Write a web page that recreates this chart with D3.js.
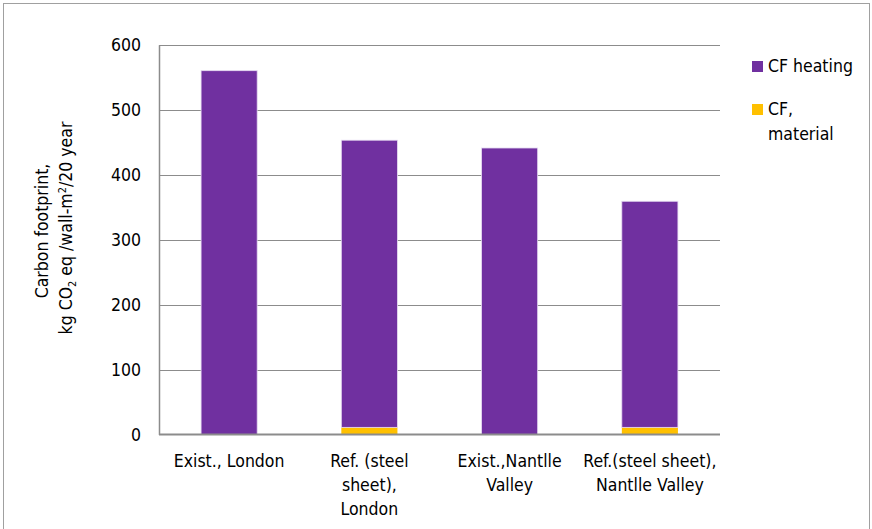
<!DOCTYPE html>
<html><head><meta charset="utf-8">
<script src="https://cdn.jsdelivr.net/npm/d3@7"></script>
<style>
body{margin:0;background:#fff;}
text{font-family:"DejaVu Sans Condensed","DejaVu Sans",sans-serif;font-stretch:condensed;fill:#000;}
</style></head><body>
<svg id="c" width="872" height="529"></svg>
<script>
const categories = [["Exist., London"], ["Ref. (steel", "sheet),", "London"], ["Exist.,Nantlle", "Valley"], ["Ref.(steel sheet),", "Nantlle Valley"]];
const cfHeating = [560, 442, 441, 348];
const cfMaterial = [0, 11, 0, 11];
const yTicks = [0, 100, 200, 300, 400, 500, 600];
const seriesNames = ["CF heating", "CF, material"];
const seriesColors = ["#7030A0", "#FFC000"];

(function(){
const FS = 17.5;
const svg = d3.select("#c");
svg.append("rect").attr("x",3.5).attr("y",3.5).attr("width",866).attr("height",540)
  .attr("fill","none").attr("stroke","#a0a0a0").attr("stroke-width",1);

const pLeft = 159, pRight = 720, pTop = 44.7, pBottom = 434.5;
const x = d3.scaleBand().domain(d3.range(categories.length)).range([pLeft, pRight]).paddingInner(0.6).paddingOuter(0.3);
const y = d3.scaleLinear().domain([0, 600]).range([pBottom, pTop]);

svg.append("g").selectAll("line").data(yTicks.filter(d=>d>0)).join("line")
  .attr("x1", pLeft).attr("x2", pRight).attr("y1", d=>Math.round(y(d))+0.5).attr("y2", d=>Math.round(y(d))+0.5)
  .attr("stroke","#8c8c8c").attr("stroke-width",1);

const yAxis = svg.append("g").attr("transform",`translate(${pLeft},0)`)
  .call(d3.axisLeft(y).tickValues(yTicks).tickSize(0).tickPadding(18));
yAxis.select(".domain").attr("stroke","#8c8c8c").attr("stroke-width",1.5);
yAxis.selectAll("text").attr("font-size",FS).attr("font-family",null);

const stack = categories.map((c,i)=>({i, h: cfHeating[i], m: cfMaterial[i]}));
svg.append("g").selectAll("rect").data(stack).join("rect")
  .attr("x", d=>x(d.i)).attr("width", x.bandwidth())
  .attr("y", d=>y(d.m)).attr("height", d=>y(0)-y(d.m))
  .attr("fill", seriesColors[1]);
svg.append("g").selectAll("rect").data(stack).join("rect")
  .attr("x", d=>x(d.i)).attr("width", x.bandwidth())
  .attr("y", d=>y(d.m+d.h)).attr("height", d=>y(d.m)-y(d.m+d.h))
  .attr("fill", seriesColors[0]).attr("stroke","#e6dbf2").attr("stroke-width",0.8);

svg.append("line").attr("x1",pLeft).attr("x2",pRight).attr("y1",pBottom).attr("y2",pBottom)
  .attr("stroke","#8c8c8c").attr("stroke-width",2);

const xl = svg.append("g").selectAll("text").data(categories).join("text")
  .attr("text-anchor","middle").attr("font-size",FS)
  .attr("transform",(d,i)=>`translate(${x(i)+x.bandwidth()/2},467)`);
xl.selectAll("tspan").data(d=>d).join("tspan").attr("x",0).attr("dy",(d,j)=>j===0?0:24).text(d=>d);

const yt = svg.append("text").attr("text-anchor","middle").attr("font-size",FS)
  .attr("transform","translate(48,231) rotate(-90)");
yt.append("tspan").attr("x",0).attr("dy",0).text("Carbon footprint,");
const yt2 = svg.append("text").attr("text-anchor","middle").attr("font-size",FS)
  .attr("transform","translate(72,228) rotate(-90)");
yt2.append("tspan").text("kg CO");
yt2.append("tspan").attr("font-size",11).attr("dy",4).text("2");
yt2.append("tspan").attr("font-size",FS).attr("dy",-4).text(" eq /wall-m");
yt2.append("tspan").attr("font-size",11).attr("dy",-6).text("2");
yt2.append("tspan").attr("font-size",FS).attr("dy",6).text("/20 year");

const lg = svg.append("g");
lg.append("rect").attr("x",752).attr("y",61).attr("width",11).attr("height",11).attr("fill",seriesColors[0]);
lg.append("text").attr("x",768).attr("y",72).attr("font-size",FS).text(seriesNames[0]);
lg.append("rect").attr("x",752).attr("y",104).attr("width",11).attr("height",11).attr("fill",seriesColors[1]);
const lt = lg.append("text").attr("x",768).attr("y",115).attr("font-size",FS);
lt.append("tspan").attr("x",768).text("CF,");
lt.append("tspan").attr("x",768).attr("dy",25).text("material");
})();
</script></body></html>
